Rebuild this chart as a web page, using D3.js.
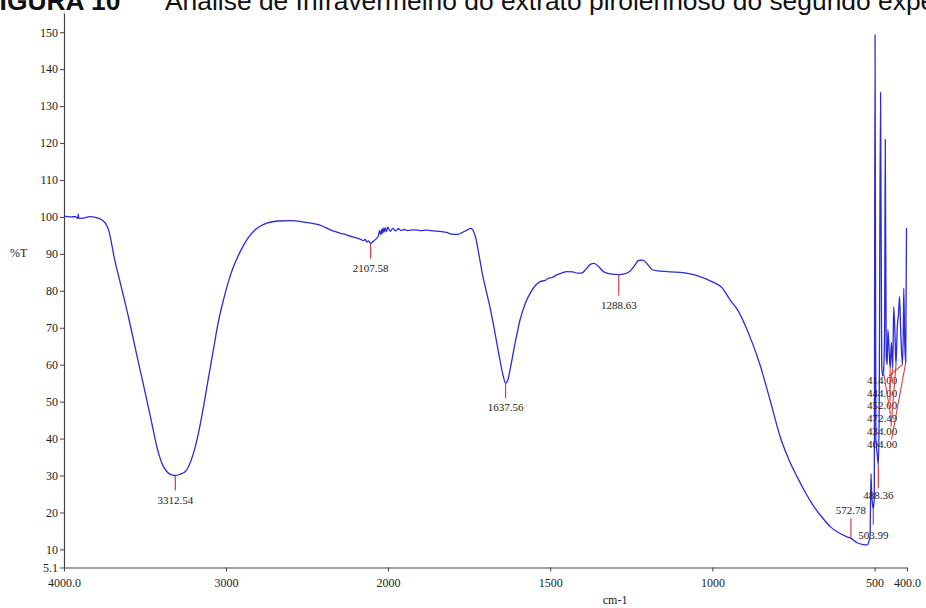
<!DOCTYPE html>
<html>
<head>
<meta charset="utf-8">
<script src="https://cdn.jsdelivr.net/npm/d3@7"></script>
<style>
  html, body { margin: 0; padding: 0; background: #fff; overflow: hidden; }
  svg { display: block; }
  .tick text { font-family: "Liberation Serif", "Times New Roman", serif; }
</style>
</head>
<body>
<svg id="chart" width="926" height="608"></svg>
<script>
// FTIR spectrum: wavenumber (cm-1) vs transmittance (%T)
const wavenumber = [
  4000, 3960, 3930, 3915, 3912, 3909, 3880, 3840, 3800, 3770, 3750, 3735, 3722, 3708, 3690,
  3660, 3633, 3600, 3571, 3530, 3489, 3450, 3427, 3400, 3386, 3360, 3345, 3312.54,
  3280, 3252, 3230, 3201, 3170, 3139, 3110, 3078, 3050, 3016, 2985, 2954, 2910, 2872,
  2820, 2748, 2680, 2600, 2520, 2420, 2340, 2276, 2220, 2173, 2150, 2140, 2130, 2120,
  2107.58, 2095, 2085, 2070, 2060, 2052, 2045, 2040, 2035, 2030, 2025, 2018, 2010, 2002,
  1993, 1985, 1977, 1968, 1960, 1950, 1940, 1920, 1900, 1880, 1860, 1840, 1820, 1800,
  1785, 1770, 1755, 1745, 1738, 1730, 1720, 1710, 1700, 1686, 1670, 1655, 1645, 1637.56,
  1630, 1624, 1610, 1593, 1575, 1562, 1545, 1531, 1515, 1506, 1495, 1480, 1465, 1449,
  1430, 1415, 1403, 1390, 1375, 1365, 1350, 1336, 1315, 1288.63, 1270, 1255, 1240, 1228,
  1215, 1200, 1185, 1160, 1100, 1050, 1000, 970, 945, 920, 899, 875, 853, 822, 791,
  765, 739, 712, 687, 660, 636, 610, 585, 572.78, 554, 535, 523, 518, 514, 511, 509,
  506, 503.99, 501, 498.5, 496, 492, 488.36, 486, 481.5, 478, 475, 472.49, 469, 467,
  464, 461, 459, 455, 452, 448, 446, 444, 441, 437, 434, 430, 426, 423, 419, 414, 411,
  410, 407, 404, 401.5
];
const transmittance = [
  100.2, 100.0, 100.1, 99.6, 100.8, 99.6, 99.7, 100.1, 99.8, 99.3, 98.6, 97.6, 96.0, 93.2, 89.0,
  83.5, 78.6, 72.5, 66.7, 58.5, 50.5, 42.5, 37.8, 33.8, 32.4, 30.8, 30.3, 30.0,
  30.4, 31.0, 32.5, 36.0, 41.5, 48.6, 56.0, 64.0, 71.0, 77.5, 82.5, 86.5, 90.8, 93.8,
  96.5, 98.3, 98.9, 99.0, 98.6, 97.8, 96.2, 95.4, 94.6, 94.0, 93.6, 93.9, 93.2, 93.5,
  92.8, 93.3, 93.6, 94.2, 94.8, 96.3, 95.2, 96.6, 95.5, 97.0, 95.8, 97.1, 96.0, 97.2,
  96.1, 96.9, 96.2, 96.8, 96.3, 96.6, 96.3, 96.5, 96.3, 96.4, 96.2, 96.1, 95.8, 95.3,
  95.3, 95.8, 96.5, 96.9, 96.4, 94.5, 90.0, 85.0, 81.0, 75.7, 68.5, 61.3, 57.0, 55.0,
  56.0, 58.5, 65.0, 72.1, 77.0, 79.3, 81.5, 82.5, 82.8, 83.4, 83.6, 84.3, 84.8, 85.2,
  85.1, 84.8, 84.8, 85.8, 87.2, 87.4, 86.5, 85.2, 84.6, 84.4, 84.6, 85.2, 86.8, 88.2,
  88.3, 87.2, 85.7, 85.3, 85.0, 84.2, 82.4, 80.8, 77.5, 74.5, 70.7, 65.5, 59.9, 50.4, 40.5,
  34.5, 29.7, 25.2, 21.6, 18.5, 16.1, 14.5, 13.4, 13.0, 11.8, 11.3, 11.2, 12.0, 13.5, 30.5, 25.0,
  22.0, 21.0, 24.0, 149.3, 40.0, 36.0, 32.8, 45.0, 133.7, 60.0, 57.0, 58.0, 70.0, 121.0,
  62.0, 60.0, 69.4, 64.0, 59.0, 66.0, 62.0, 59.0, 75.7, 68.0, 60.0, 70.0, 74.0, 78.4, 68.0, 60.0, 72.0,
  80.7, 66.0, 60.5, 97.0
];

// Labelled absorption minima
const peakPositions = [3312.54, 2107.58, 1637.56, 1288.63, 572.78, 503.99, 488.36,
                       414.00, 444.00, 452.00, 472.49, 434.00, 404.00];

// Axis ticks
const xTickValues = [4000, 3000, 2000, 1500, 1000, 500, 400];
const xTickLabels = ["4000.0", "3000", "2000", "1500", "1000", "500", "400.0"];
const yTickValues = [5.1, 10, 20, 30, 40, 50, 60, 70, 80, 90, 100, 110, 120, 130, 140, 150];
const yTickLabels = ["5.1", "10", "20", "30", "40", "50", "60", "70", "80", "90", "100",
                     "110", "120", "130", "140", "150"];

const svg = d3.select("#chart");

// Heading, partly cut off at the top edge
const title = svg.append("text")
  .attr("y", 10)
  .attr("font-family", "'Liberation Sans', Arial, sans-serif")
  .attr("font-size", 26.4).attr("fill", "#111");
title.append("tspan").attr("x", -16.5).attr("font-weight", "bold").text("FIGURA 10");
title.append("tspan").attr("x", 165).text("Análise de Infravermelho do extrato pirolenhoso do segundo experimento");

// Scales: the x axis is compressed above 2000 cm-1
const x = d3.scaleLinear().domain([4000, 2000, 400]).range([64, 388, 907]);
const y = d3.scaleLinear().domain([5.1, 155.2]).range([567.5, 13]);

const axisColor = "#444";

const gx = svg.append("g").attr("transform", `translate(0,${y(5.1)})`)
  .call(d3.axisBottom(x).tickValues(xTickValues).tickSize(4).tickSizeOuter(0)
    .tickFormat((d, i) => xTickLabels[i]));
gx.selectAll("text").attr("font-size", 12).attr("fill", "#222").attr("dy", "1.05em");

const gy = svg.append("g").attr("transform", `translate(${x(4000)},0)`)
  .call(d3.axisLeft(y).tickValues(yTickValues).tickSize(4).tickSizeOuter(0)
    .tickFormat((d, i) => yTickLabels[i]));
gy.selectAll("text").attr("font-size", 12).attr("fill", "#222").attr("x", -6);

svg.selectAll(".domain").attr("stroke", axisColor).attr("stroke-width", 1.2);
svg.selectAll(".tick line").attr("stroke", axisColor);

svg.append("text").attr("x", 10).attr("y", 257)
  .attr("font-family", "'Liberation Serif', serif").attr("font-size", 12)
  .attr("fill", "#222").text("%T");
svg.append("text").attr("x", x(1300)).attr("y", 604).attr("text-anchor", "middle")
  .attr("font-family", "'Liberation Serif', serif").attr("font-size", 12)
  .attr("fill", "#222").text("cm-1");

// Spectrum trace
const points = wavenumber.map((w, i) => [w, transmittance[i]]);
const line = d3.line().x(d => x(d[0])).y(d => y(d[1])).curve(d3.curveMonotoneX);
svg.append("path").datum(points)
  .attr("fill", "none").attr("stroke", "#2b2bdc").attr("stroke-width", 1.3)
  .attr("stroke-linejoin", "round").attr("d", line);

// Transmittance of the trace at a labelled minimum
function tAt(w) {
  const i = wavenumber.indexOf(w);
  return i >= 0 ? transmittance[i] : null;
}

// Marker layout: vertical tick below/above the minimum or a leader to a stacked label
const markerLayout = {
  "3312.54": { kind: "down", len: 15, gap: 13 },
  "2107.58": { kind: "down", len: 15, gap: 13 },
  "1637.56": { kind: "down", len: 15, gap: 13 },
  "1288.63": { kind: "down", len: 21, gap: 13 },
  "572.78":  { kind: "up", len: 20, gap: 4 },
  "503.99":  { kind: "down", len: 16, gap: 14 },
  "488.36":  { kind: "down", len: 23, gap: 11 },
  "414.00":  { kind: "stack", row: 0 },
  "444.00":  { kind: "stack", row: 1 },
  "452.00":  { kind: "stack", row: 2 },
  "472.49":  { kind: "stack", row: 3 },
  "434.00":  { kind: "stack", row: 4 },
  "404.00":  { kind: "stack", row: 5 }
};

const red = "#e23a3a";
const labelFont = "'Liberation Serif', serif";
const marks = svg.append("g");

peakPositions.forEach(w => {
  const label = w.toFixed(2);
  const L = markerLayout[label];
  const px = x(w), py = y(tAt(w));
  if (L.kind === "down") {
    marks.append("line").attr("x1", px).attr("x2", px).attr("y1", py).attr("y2", py + L.len)
      .attr("stroke", red).attr("stroke-width", 1.2);
    marks.append("text").attr("x", px).attr("y", py + L.len + L.gap)
      .attr("text-anchor", "middle").attr("font-family", labelFont).attr("font-size", 11)
      .attr("fill", "#222").text(label);
  } else if (L.kind === "up") {
    marks.append("line").attr("x1", px).attr("x2", px).attr("y1", py).attr("y2", py - L.len)
      .attr("stroke", red).attr("stroke-width", 1.2);
    marks.append("text").attr("x", px).attr("y", py - L.len - L.gap)
      .attr("text-anchor", "middle").attr("font-family", labelFont).attr("font-size", 11)
      .attr("fill", "#222").text(label);
  } else {
    const ly = 384 + L.row * 12.7;
    marks.append("line").attr("x1", px).attr("y1", py).attr("x2", 889 + L.row * 0.5).attr("y2", ly - 8)
      .attr("stroke", red).attr("stroke-width", 1.1);
    marks.append("text").attr("x", 882).attr("y", ly)
      .attr("text-anchor", "middle").attr("font-family", labelFont).attr("font-size", 11)
      .attr("fill", "#222").text(label);
  }
});
</script>
</body>
</html>
